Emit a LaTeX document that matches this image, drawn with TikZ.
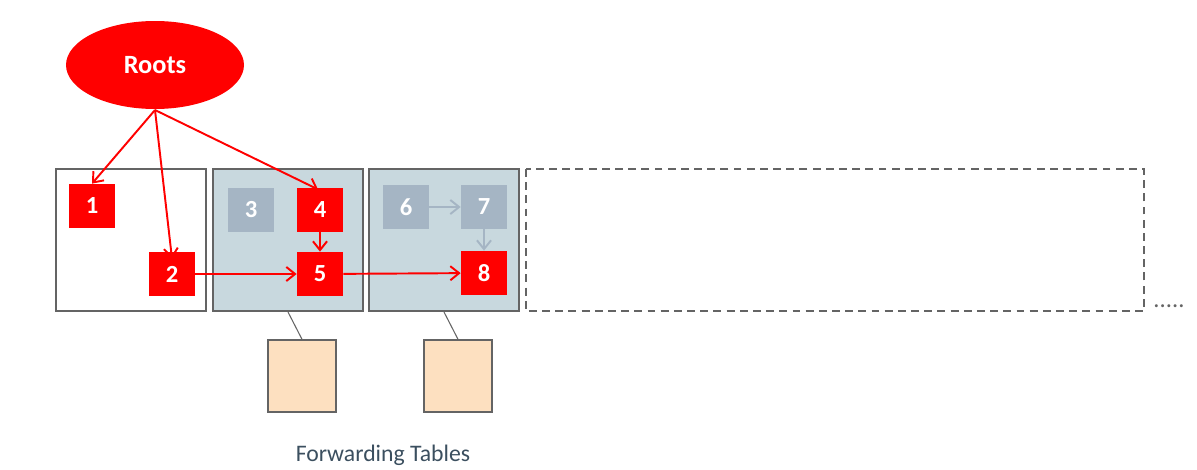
\documentclass[tikz,border=0pt]{standalone}
\usepackage{fontspec}
\setmainfont{Carlito}
\usetikzlibrary{shapes.geometric, arrows.meta}
\definecolor{rootred}{RGB}{255,0,0}
\definecolor{regionfill}{RGB}{200,216,222}
\definecolor{regionline}{RGB}{100,100,100}
\definecolor{deadgray}{RGB}{165,181,196}
\definecolor{tablefill}{RGB}{253,224,192}
\definecolor{captiontext}{RGB}{59,79,95}

\begin{document}
\begin{tikzpicture} [x=0.02cm, y=-0.02cm,
    region/.style={draw=regionline, line width=1.4pt},
    live/.style={fill=rootred, text=white, minimum width=46*0.02cm, minimum height=44*0.02cm, font=\fontsize{14}{16}\selectfont\bfseries},
    dead/.style={live, fill=deadgray},
    ptr/.style={draw=rootred, line width=1.1pt, -{Straight Barb[length=5pt, width=8pt]}},
    deadptr/.style={ptr, draw=deadgray},
    fwdtable/.style={draw=regionline, fill=tablefill, line width=0.8pt, minimum width=68*0.02cm, minimum height=72*0.02cm}]
      \useasboundingbox (0,0) rectangle (1197,470);

      % heap regions
      \draw[region] (56,169) rectangle (206,311);
      \draw[region, fill=regionfill] (213,169) rectangle (363,311);
      \draw[region, fill=regionfill] (369,169) rectangle (519,311);
      \draw[region, dash pattern=on 4.5pt off 3pt] (526,169) rectangle (1144,311);
      \node[text=regionline, font=\fontsize{14}{16}\selectfont] (more) at (1169,306) {.....};

      \node[ellipse, fill=rootred, text=white, minimum width=178*0.02cm, minimum height=88*0.02cm, font=\fontsize{15}{17}\selectfont\bfseries] (roots) at (155,65) {Roots};

      \node[live] (o1) at (92,206) {1};
      \node[live] (o2) at (172,274) {2};
      \node[dead] (o3) at (251,210) {3};
      \node[live] (o4) at (320,210) {4};
      \node[live] (o5) at (320,274) {5};
      \node[dead] (o6) at (406,207) {6};
      \node[dead] (o7) at (484,207) {7};
      \node[live] (o8) at (484,273) {8};

      \coordinate (rootsout) at (155,110);
      \draw[ptr] (rootsout) -- (o1.north);
      \draw[ptr] (rootsout) -- ([yshift=-4]o2.north);
      \draw[ptr] (rootsout) -- ([xshift=-2*0.02cm, yshift=-1]o4.north);
      \draw[ptr] (o4) -- (o5);
      \draw[ptr] (o2) -- (o5);
      \draw[ptr] (o5) -- (o8);
      \draw[deadptr] (o6) -- (o7);
      \draw[deadptr] (o7) -- (o8);

      % forwarding tables
      \node[fwdtable] (ft1) at (302,376) {};
      \node[fwdtable] (ft2) at (458,376) {};
      \coordinate (r2foot) at (288,312);
      \coordinate (r3foot) at (444,312);
      \draw[regionline, line width=0.6pt] (r2foot) -- (ft1.north);
      \draw[regionline, line width=0.6pt] (r3foot) -- (ft2.north);
      \node[text=captiontext, font=\fontsize{13.5}{16}\selectfont] (caption) at (383,455) {Forwarding Tables};
\end{tikzpicture}
\end{document}
